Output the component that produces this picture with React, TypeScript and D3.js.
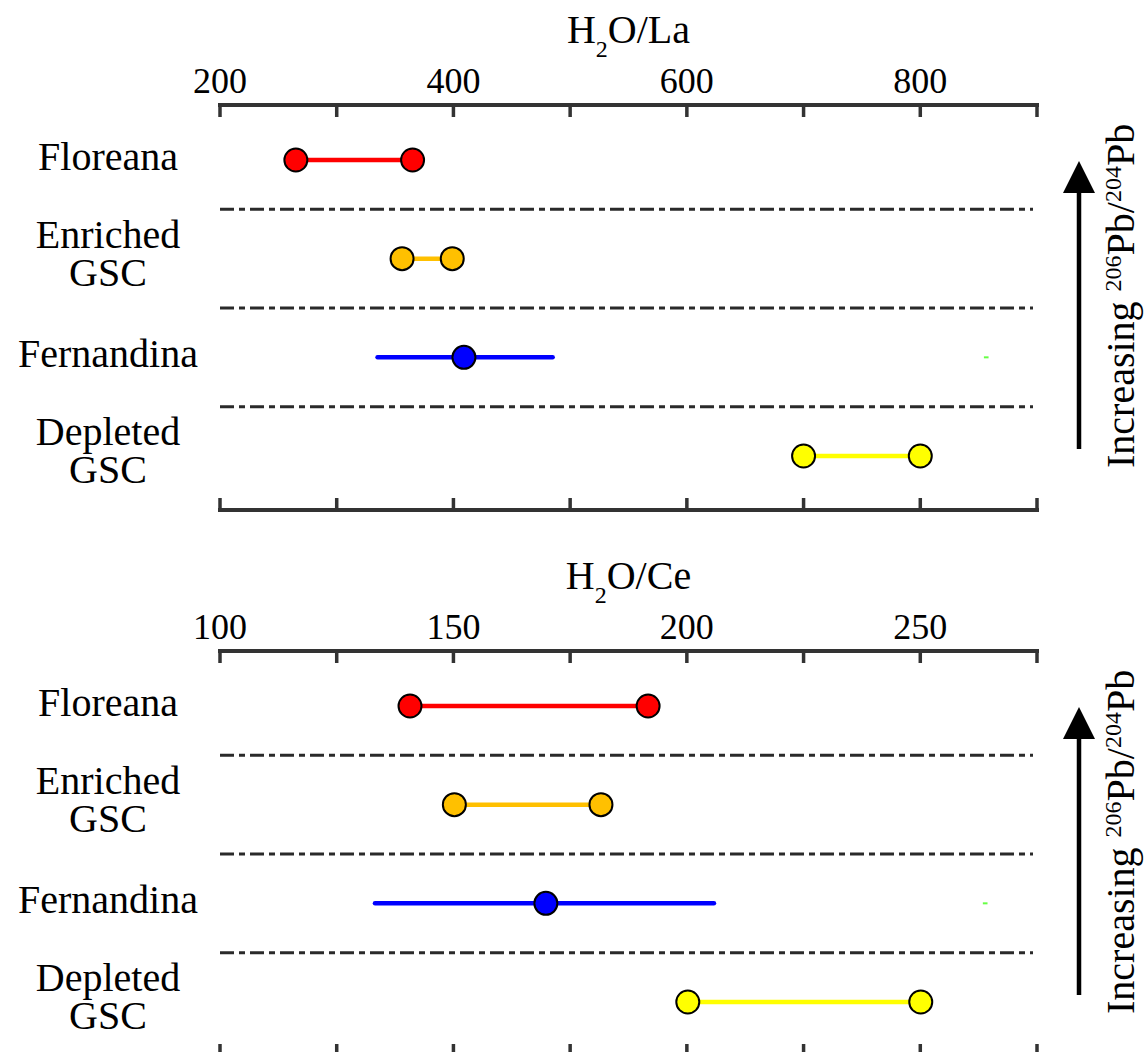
import React from "react";
import * as d3 from "d3";

const groups = ["Floreana", "Enriched GSC", "Fernandina", "Depleted GSC"];
const labelLines = [["Floreana"], ["Enriched", "GSC"], ["Fernandina"], ["Depleted", "GSC"]];
const colors = ["#FF0000", "#FFC000", "#0000FF", "#FFFF00"];

// H2O/La panel
const laTicks = [200, 300, 400, 500, 600, 700, 800, 900];
const laLabels = [200, 400, 600, 800];
const laLow = [265, 356, 335, 700];
const laHigh = [365, 399, 485, 800];
const laDots = [[265, 365], [356, 399], [409], [700, 800]];
const laGreen = [854.5, 858.5];

// H2O/Ce panel
const ceTicks = [100, 125, 150, 175, 200, 225, 250, 275];
const ceLabels = [100, 150, 200, 250];
const ceLow = [140.7, 150.2, 133.2, 200.2];
const ceHigh = [191.7, 181.6, 205.8, 250.1];
const ceDots = [[140.7, 191.7], [150.2, 181.6], [169.8], [200.2, 250.1]];
const ceGreen = [263.4, 264.4];

const FONT = "Liberation Serif, DejaVu Serif, Times New Roman, serif";
const AX = "#333333";

type PanelProps = {
  yTop: number;
  ticks: number[];
  labels: number[];
  low: number[];
  high: number[];
  dots: number[][];
  green: number[];
  titleTail: string;
};

function Panel({ yTop, ticks, labels, low, high, dots, green, titleTail }: PanelProps) {
  const x = d3.scaleLinear().domain([ticks[0], ticks[ticks.length - 1]]).range([220, 1037]);
  const y = d3.scalePoint<string>().domain(groups).range([yTop + 55, yTop + 351]);
  const yBottom = yTop + 405;
  const xMid = (x.range()[0] + x.range()[1]) / 2;
  const dashYs = groups.slice(1).map((g, i) => ((y(groups[i]) as number) + (y(g) as number)) / 2);
  return (
    <g>
      {/* title */}
      <text x={xMid} y={yTop - 62} textAnchor="middle" fontSize={40} fill="#000">
        H<tspan fontSize={24} dy={14}>2</tspan>
        <tspan dy={-14}>{titleTail}</tspan>
      </text>
      {/* top axis */}
      <line x1={x.range()[0] - 2} x2={x.range()[1] + 2} y1={yTop} y2={yTop} stroke={AX} strokeWidth={4} />
      {ticks.map((t) => (
        <line key={"tt" + t} x1={x(t)} x2={x(t)} y1={yTop} y2={yTop + 12} stroke={AX} strokeWidth={3.5} />
      ))}
      {labels.map((t) => (
        <text key={"tl" + t} x={x(t)} y={yTop - 12} textAnchor="middle" fontSize={36} fill="#000">
          {t}
        </text>
      ))}
      {/* bottom axis */}
      <line x1={x.range()[0] - 2} x2={x.range()[1] + 2} y1={yBottom} y2={yBottom} stroke={AX} strokeWidth={4} />
      {ticks.map((t) => (
        <line key={"bt" + t} x1={x(t)} x2={x(t)} y1={yBottom} y2={yBottom - 12} stroke={AX} strokeWidth={3.5} />
      ))}
      {/* separators */}
      {dashYs.map((dy, i) => (
        <line key={"d" + i} x1={220} x2={1033} y1={dy} y2={dy} stroke="#2a2a2a" strokeWidth={3} strokeDasharray="14,5,6,5" />
      ))}
      {/* row labels */}
      {groups.map((g, i) => {
        const cy = y(g) as number;
        const lines = labelLines[i];
        return (
          <text key={"lab" + g} textAnchor="middle" fontSize={40} fill="#000">
            {lines.length === 1 ? (
              <tspan x={108} y={cy + 10}>{lines[0]}</tspan>
            ) : (
              lines.map((l, k) => (
                <tspan key={k} x={108} y={cy - 11 + k * 38}>{l}</tspan>
              ))
            )}
          </text>
        );
      })}
      {/* ranges */}
      {groups.map((g, i) => (
        <line key={"r" + g} x1={x(low[i])} x2={x(high[i])} y1={y(g)} y2={y(g)} stroke={colors[i]} strokeWidth={4.5} strokeLinecap="round" />
      ))}
      {groups.map((g, i) =>
        dots[i].map((v, k) => (
          <circle key={"c" + g + k} cx={x(v)} cy={y(g)} r={11.5} fill={colors[i]} stroke="#000" strokeWidth={2} />
        ))
      )}
      {/* small green mark */}
      <line x1={x(green[0])} x2={x(green[1])} y1={y("Fernandina")} y2={y("Fernandina")} stroke="#66FF44" strokeWidth={2} />
      {/* arrow */}
      <line x1={1079} x2={1079} y1={yTop + 344} y2={yTop + 84} stroke="#000" strokeWidth={4.5} />
      <polygon points={`1079,${yTop + 56} ${1063},${yTop + 88} ${1095},${yTop + 88}`} fill="#000" />
      <text transform={`translate(1134, ${yTop + 363}) rotate(-90)`} fontSize={40} fill="#000">
        Increasing <tspan fontSize={24} dy={-13}>206</tspan>
        <tspan dy={13}>Pb/</tspan>
        <tspan fontSize={24} dy={-13}>204</tspan>
        <tspan dy={13}>Pb</tspan>
      </text>
    </g>
  );
}

export default function App() {
  return (
    <svg width={1145} height={1052} style={{ position: "absolute", left: 0, top: 0, background: "#fff", fontFamily: FONT }}>
      <rect width={1145} height={1052} fill="#fff" />
      <Panel yTop={105} ticks={laTicks} labels={laLabels} low={laLow} high={laHigh} dots={laDots} green={laGreen} titleTail="O/La" />
      <Panel yTop={651} ticks={ceTicks} labels={ceLabels} low={ceLow} high={ceHigh} dots={ceDots} green={ceGreen} titleTail="O/Ce" />
    </svg>
  );
}
